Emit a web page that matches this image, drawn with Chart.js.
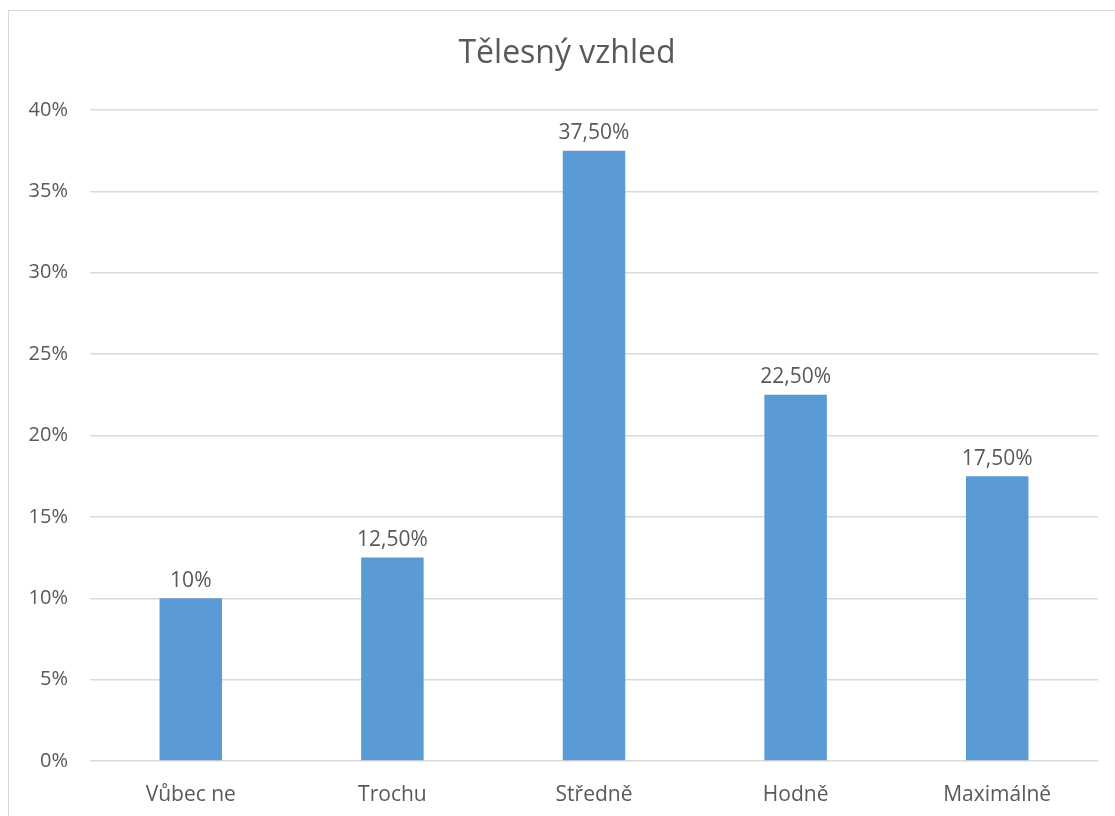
<!DOCTYPE html>
<html>
<head>
<meta charset="utf-8">
<script src="https://cdn.jsdelivr.net/npm/chart.js@4/dist/chart.umd.min.js"></script>
<style>
    html, body { margin: 0; padding: 0; background: #fff; overflow: hidden; }
    #wrap { position: relative; width: 1115px; height: 816px; overflow: hidden; }
    #frame { position: absolute; left: 8px; top: 10px; width: 1200px; height: 900px; border: 1px solid #d9d9d9; box-sizing: border-box; }
    #chartBox { position: absolute; left: 0; top: 0; width: 1115px; height: 816px; }
</style>
</head>
<body>
<div id="wrap">
    <div id="frame"></div>
    <div id="chartBox"><canvas id="bodyChart"></canvas></div>
</div>
<script>
const chartTitle = 'Tělesný vzhled';
const categories = ['Vůbec ne', 'Trochu', 'Středně', 'Hodně', 'Maximálně'];
const values = [10, 12.5, 37.5, 22.5, 17.5];
const valueLabels = ['10%', '12,50%', '37,50%', '22,50%', '17,50%'];
const yTicks = [0, 5, 10, 15, 20, 25, 30, 35, 40];

const textColor = '#595959';
const fontFamily = '"Open Sans", "Liberation Sans", sans-serif';

// data labels above the bars + title centred on the whole frame
const barLabels = {
    id: 'barLabels',
    afterDatasetsDraw(chart) {
        const ctx = chart.ctx;
        const meta = chart.getDatasetMeta(0);
        ctx.save();
        ctx.fillStyle = textColor;
        ctx.font = '21px ' + fontFamily;
        ctx.textAlign = 'center';
        ctx.textBaseline = 'bottom';
        meta.data.forEach((bar, i) => {
            ctx.fillText(valueLabels[i], bar.x, bar.y - 7);
        });

        ctx.font = '32px ' + fontFamily;
        ctx.textBaseline = 'middle';
        ctx.fillText(chartTitle, 567, 54);
        ctx.restore();
    }
};

const ctx = document.getElementById('bodyChart').getContext('2d');
new Chart(ctx, {
    type: 'bar',
    data: {
        labels: categories,
        datasets: [{
            data: values,
            backgroundColor: '#5b9bd5',
            borderWidth: 0,
            categoryPercentage: 1,
            barPercentage: 0.31
        }]
    },
    options: {
        responsive: true,
        maintainAspectRatio: false,
        animation: false,
        layout: { padding: { left: 0, right: 17, top: 110, bottom: 0 } },
        plugins: {
            legend: { display: false },
            tooltip: { enabled: false },
            title: { display: false }
        },
        scales: {
            x: {
                grid: { display: false, drawTicks: false },
                border: { display: false },
                ticks: {
                    color: textColor,
                    font: { family: fontFamily, size: 21 },
                    padding: 21
                },
                afterFit: function (scale) { scale.height = 55; }
            },
            y: {
                min: 0,
                max: 40,
                afterBuildTicks: function (scale) {
                    scale.ticks = yTicks.map(v => ({ value: v }));
                },
                grid: { color: '#d9d9d9', lineWidth: 1.5, drawTicks: false },
                border: { display: false },
                ticks: {
                    color: textColor,
                    font: { family: fontFamily, size: 20 },
                    padding: 22,
                    callback: function (value) { return value + '%'; }
                },
                afterFit: function (scale) { scale.width = 90; }
            }
        }
    },
    plugins: [barLabels]
});
</script>
</body>
</html>
